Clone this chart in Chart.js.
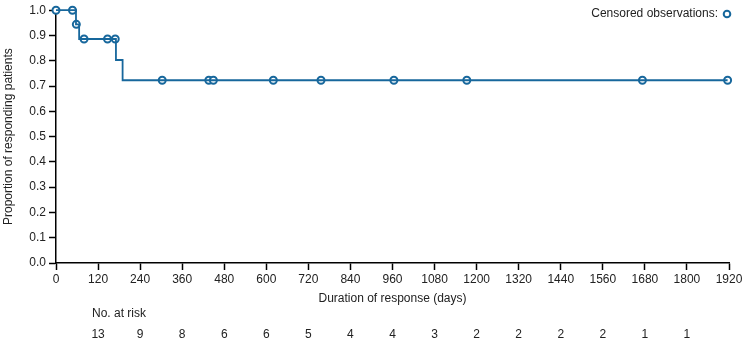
<!DOCTYPE html>
<html>
<head>
<meta charset="utf-8">
<script src="https://cdn.jsdelivr.net/npm/chart.js@4/dist/chart.umd.min.js"></script>
<style>
html,body{margin:0;padding:0;background:#fff;}
#wrap{width:745px;height:342px;position:relative;}
</style>
</head>
<body>
<div id="wrap"><canvas id="c" width="745" height="342"></canvas></div>
<script>
// Kaplan-Meier step curve (event times and survival after each event)
const eventDays = [0, 57, 66, 171, 190, 1916];
const eventSurv = [1.0, 0.944, 0.886, 0.803, 0.723, 0.723];
// Censored observations
const censorDays = [0, 47, 58, 80, 147, 169, 303, 436, 449, 620, 756, 964, 1172, 1673, 1916];
const censorSurv = [1.0, 1.0, 0.944, 0.886, 0.886, 0.886, 0.723, 0.723, 0.723, 0.723, 0.723, 0.723, 0.723, 0.723, 0.723];
// Number at risk table
const riskDays = [120, 240, 360, 480, 600, 720, 840, 960, 1080, 1200, 1320, 1440, 1560, 1680, 1800];
const riskCounts = [13, 9, 8, 6, 6, 5, 4, 4, 3, 2, 2, 2, 2, 1, 1];
// Axis ticks
const xTickValues = [0,120,240,360,480,600,720,840,960,1080,1200,1320,1440,1560,1680,1800,1920];
const yTickValues = [0,0.1,0.2,0.3,0.4,0.5,0.6,0.7,0.8,0.9,1.0];

const BLUE = '#17679c';
const FONT = 'Arial, "Liberation Sans", sans-serif';
const TXT = '#222';

const extrasPlugin = {
  id: 'extras',
  afterDraw(chart) {
    const ctx = chart.ctx;
    const xs = chart.scales.x;
    ctx.save();
    ctx.font = '12px ' + FONT;
    ctx.fillStyle = TXT;
    // legend
    ctx.textAlign = 'right';
    ctx.textBaseline = 'middle';
    ctx.fillText('Censored observations:', 718, 14);
    ctx.beginPath();
    ctx.arc(727, 14, 3.3, 0, Math.PI * 2);
    ctx.fillStyle = '#fff';
    ctx.fill();
    ctx.lineWidth = 2;
    ctx.strokeStyle = BLUE;
    ctx.stroke();
    // risk table
    ctx.fillStyle = TXT;
    ctx.textAlign = 'left';
    ctx.fillText('No. at risk', 92, 314);
    ctx.textAlign = 'center';
    riskDays.forEach((d, i) => {
      ctx.fillText(String(riskCounts[i]), xs.getPixelForValue(d), 335);
    });
    ctx.restore();
  }
};

new Chart(document.getElementById('c'), {
  type: 'line',
  data: {
    datasets: [
      {
        label: 'KM',
        data: eventDays.map((d, i) => ({x: d, y: eventSurv[i]})),
        stepped: true,
        borderColor: BLUE,
        borderWidth: 1.8,
        pointRadius: 0,
        fill: false,
        clip: false
      },
      {
        label: 'Censored',
        data: censorDays.map((d, i) => ({x: d, y: censorSurv[i]})),
        showLine: false,
        pointStyle: 'circle',
        pointRadius: 3.5,
        pointBorderWidth: 2,
        pointBorderColor: BLUE,
        pointBackgroundColor: '#fff',
        clip: false
      }
    ]
  },
  options: {
    responsive: false,
    animation: false,
    devicePixelRatio: 1,
    layout: {padding: {top: 8, right: 16, left: 0, bottom: 0}},
    plugins: {legend: {display: false}, tooltip: {enabled: false}},
    scales: {
      x: {
        type: 'linear',
        min: 0, max: 1920,
        afterBuildTicks: s => { s.ticks = xTickValues.map(v => ({value: v})); },
        afterFit: s => { s.height = 79; },
        grid: {drawOnChartArea: false, drawTicks: true, tickLength: 7, tickColor: '#000', tickWidth: 1.5},
        border: {color: '#000', width: 1.5},
        ticks: {color: TXT, font: {family: FONT, size: 12}, padding: 2, maxRotation: 0, autoSkip: false, callback: v => String(v)},
        title: {display: true, text: 'Duration of response (days)', color: TXT, font: {family: FONT, size: 12}, padding: {top: 0, bottom: 36}}
      },
      y: {
        type: 'linear',
        min: 0, max: 1,
        afterBuildTicks: s => { s.ticks = yTickValues.map(v => ({value: v})); },
        afterFit: s => { s.width = 56; },
        grid: {drawOnChartArea: false, drawTicks: true, tickLength: 7, tickColor: '#000', tickWidth: 1.5},
        border: {color: '#000', width: 1.5},
        ticks: {color: TXT, font: {family: FONT, size: 12}, padding: 3, autoSkip: false, callback: v => v.toFixed(1)},
        title: {display: true, text: 'Proportion of responding patients', color: TXT, font: {family: FONT, size: 12}, padding: {top: 1, bottom: 0}}
      }
    }
  },
  plugins: [extrasPlugin]
});
</script>
</body>
</html>
